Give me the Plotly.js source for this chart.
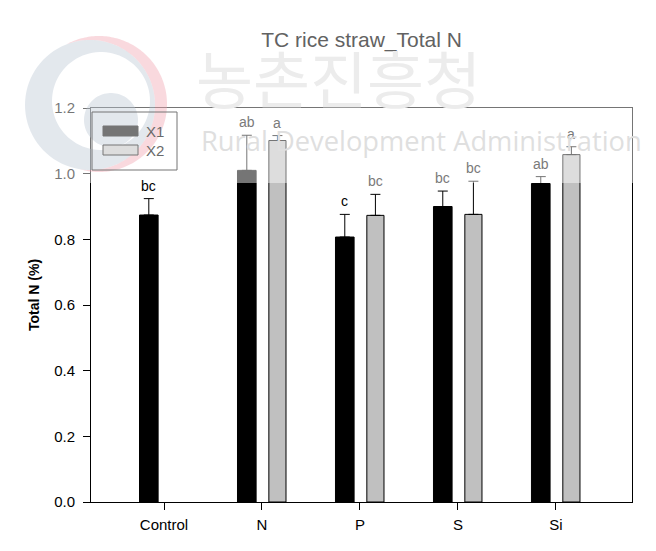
<!DOCTYPE html>
<html>
<head>
<meta charset="utf-8">
<script src="https://cdn.plot.ly/plotly-3.0.1.min.js"></script>
<style>html,body{margin:0;padding:0;background:#fff;}</style>
</head>
<body>
<div id="chart" style="width:656px;height:551px;"></div>
<script>
// ---- data ----
var categories = ['Control', 'N', 'P', 'S', 'Si'];
var seriesNames = ['X1', 'X2'];
var x1Mean = [0.874, 1.010, 0.807, 0.900, 0.970];
var x1Err  = [0.050, 0.107, 0.069, 0.047, 0.021];
var x2Mean = [null, 1.101, 0.873, 0.876, 1.058];
var x2Err  = [null, 0.015, 0.064, 0.101, 0.024];
var x1Letters = ['bc', 'ab', 'c', 'bc', 'ab'];
var x2Letters = ['', 'a', 'bc', 'bc', 'a'];
var yTickVals = [0, 0.2, 0.4, 0.6, 0.8, 1.0, 1.2];
var chartTitle = 'TC rice straw_Total N';
var yTitle = 'Total N (%)';

// ---- layout constants ----
var W = 656, H = 551;
var M = {l: 91, r: 24, t: 108, b: 49};
var plotW = W - M.l - M.r, plotH = H - M.t - M.b;
var YMAX = 1.2;
function px2x(px) { return (px - M.l) / plotW; }
function px2y(py) { return (H - M.b - py) / plotH; }
var overlayBottom = 183;
var FONT = 'Liberation Sans, Arial, sans-serif';

var w1 = 0.19, o1 = -0.25, w2 = 0.175, o2 = 0.07;
var xs = categories.map(function (c, i) { return i; });

var traces = [
  {
    type: 'bar', name: seriesNames[0], x: xs, y: x1Mean,
    width: w1, offset: o1,
    marker: {color: '#000000', line: {color: '#000000', width: 1}},
    error_y: {type: 'data', array: x1Err, arrayminus: x1Err.map(function () { return 0; }),
              symmetric: false, color: '#000000', thickness: 1, width: 5},
    showlegend: false, hoverinfo: 'skip'
  },
  {
    type: 'bar', name: seriesNames[1], x: xs, y: x2Mean,
    width: w2, offset: o2,
    marker: {color: '#c0c0c0', line: {color: '#000000', width: 1}},
    error_y: {type: 'data', array: x2Err, arrayminus: x2Err.map(function () { return 0; }),
              symmetric: false, color: '#000000', thickness: 1, width: 5},
    showlegend: false, hoverinfo: 'skip'
  }
];

function labelColor(v) {
  var py = H - M.b - v / YMAX * plotH - 13;
  return py < overlayBottom ? '#7a7a7a' : '#000000';
}

var annotations = [];
function addLetters(means, errs, letters, off, wd) {
  means.forEach(function (m, i) {
    if (m === null || !letters[i]) return;
    var top = m + (errs[i] || 0);
    annotations.push({
      xref: 'x', yref: 'y', x: i + off + wd / 2, y: top,
      text: letters[i], showarrow: false, yanchor: 'bottom', yshift: 3,
      font: {family: FONT, size: 14, color: labelColor(top)}
    });
  });
}
addLetters(x1Mean, x1Err, x1Letters, o1, w1);
addLetters(x2Mean, x2Err, x2Letters, o2, w2);

// y-axis title
annotations.push({
  xref: 'paper', yref: 'paper', x: px2x(34), y: px2y(295), text: '<b>' + yTitle + '</b>',
  textangle: -90, showarrow: false, xanchor: 'center', yanchor: 'middle',
  font: {family: FONT, size: 14, color: '#000000'}
});

// watermark texts
annotations.push({
  xref: 'paper', yref: 'paper', x: px2x(338), y: px2y(77), text: '농촌진흥청',
  showarrow: false, xanchor: 'center', yanchor: 'middle',
  font: {family: 'Noto Sans CJK KR', size: 62, color: '#ececec'}
});
annotations.push({
  xref: 'paper', yref: 'paper', x: px2x(199), y: px2y(140), text: 'Rural Development Administration',
  showarrow: false, xanchor: 'left', yanchor: 'middle',
  font: {family: 'Open Sans, Noto Sans, sans-serif', size: 27.3, color: '#dfdfdf'}
});

// legend labels
annotations.push({
  xref: 'paper', yref: 'paper', x: px2x(144), y: px2y(131), text: seriesNames[0],
  showarrow: false, xanchor: 'left', yanchor: 'middle',
  font: {family: FONT, size: 15, color: '#6a6a6a'}
});
annotations.push({
  xref: 'paper', yref: 'paper', x: px2x(144), y: px2y(150), text: seriesNames[1],
  showarrow: false, xanchor: 'left', yanchor: 'middle',
  font: {family: FONT, size: 15, color: '#6a6a6a'}
});

// circle sub-path in paper coordinates (pixel centre / radius)
function pt(px, py) { return px2x(px).toFixed(5) + ',' + px2y(py).toFixed(5); }
function circlePath(cx, cy, r) {
  var n = 90, s = '';
  for (var k = 0; k <= n; k++) {
    var a = 2 * Math.PI * k / n;
    s += (k === 0 ? 'M' : 'L') + pt(cx + r * Math.cos(a), cy + r * Math.sin(a));
  }
  return s + 'Z';
}
// crescent = outer disc minus inner disc (crescent lying around angle 0)
function crescentPath(o, i) {
  var n = 240, outer = [], inner = [];
  for (var k = 0; k < n; k++) {
    var a = -Math.PI + 2 * Math.PI * k / n;
    var ox = o.cx + o.r * Math.cos(a), oy = o.cy + o.r * Math.sin(a);
    if (Math.hypot(ox - i.cx, oy - i.cy) > i.r) outer.push([ox, oy]);
    var ix = i.cx + i.r * Math.cos(a), iy = i.cy + i.r * Math.sin(a);
    if (Math.hypot(ix - o.cx, iy - o.cy) < o.r) inner.push([ix, iy]);
  }
  var pts = outer.concat(inner.reverse());
  return pts.map(function (p, k) { return (k === 0 ? 'M' : 'L') + pt(p[0], p[1]); }).join('') + 'Z';
}
function rect(x0, y0, x1, y1, fill, lineColor) {
  return {type: 'rect', xref: 'paper', yref: 'paper', layer: 'above',
    x0: px2x(x0), x1: px2x(x1), y0: px2y(y1), y1: px2y(y0),
    fillcolor: fill, line: {color: lineColor || 'rgba(0,0,0,0)', width: lineColor ? 1 : 0}};
}

var pinkDisc = {cx: 99, cy: 104, r: 68};
var blueDisc = {cx: 90, cy: 105, r: 65};
var shapes = [
  // logo (watermark): pink crescent and blue ring with inner blob
  {type: 'path', xref: 'paper', yref: 'paper', layer: 'above',
   path: crescentPath(pinkDisc, blueDisc),
   fillcolor: 'rgba(228,83,105,0.4)', line: {width: 0}},
  {type: 'path', xref: 'paper', yref: 'paper', layer: 'above', fillrule: 'evenodd',
   path: circlePath(blueDisc.cx, blueDisc.cy, blueDisc.r) + circlePath(101, 101, 49) + circlePath(111, 120, 27),
   fillcolor: 'rgba(125,148,173,0.4)', line: {width: 0}},
  // legend
  rect(92, 112, 177, 170, 'rgba(0,0,0,0)', '#000000'),
  rect(103, 126, 138, 136, '#000000', '#000000'),
  rect(103, 145, 138, 155, '#c0c0c0', '#000000'),
  // watermark veil
  {type: 'rect', xref: 'paper', yref: 'paper', layer: 'above',
   x0: px2x(-5), x1: px2x(W + 5), y0: px2y(overlayBottom), y1: px2y(-5),
   fillcolor: '#ffffff', opacity: 0.46, line: {width: 0}}
];

var layout = {
  width: W, height: H,
  margin: M,
  paper_bgcolor: '#ffffff', plot_bgcolor: '#ffffff',
  font: {family: FONT, color: '#000000'},
  title: {text: chartTitle, x: 0.5, xref: 'paper', xanchor: 'center',
          y: 1 - 40 / H, yanchor: 'middle',
          font: {family: FONT, size: 21, color: '#626262'}},
  showlegend: false,
  xaxis: {
    range: [-0.745, 4.776], tickmode: 'array', tickvals: xs, ticktext: categories,
    ticks: 'outside', ticklen: 7, tickwidth: 1, tickcolor: '#000',
    ticklabelstandoff: 2,
    showline: true, linecolor: '#000', linewidth: 1, mirror: true,
    showgrid: false, zeroline: false,
    tickfont: {family: FONT, size: 15, color: '#000'}, fixedrange: true
  },
  yaxis: {
    range: [0, YMAX], tickmode: 'array', tickvals: yTickVals, tickformat: '.1f',
    ticks: 'outside', ticklen: 7, tickwidth: 1, tickcolor: '#000',
    ticklabelstandoff: 5,
    showline: true, linecolor: '#000', linewidth: 1, mirror: true,
    showgrid: false, zeroline: false,
    tickfont: {family: FONT, size: 15, color: '#000'},
    fixedrange: true
  },
  shapes: shapes,
  annotations: annotations
};

Plotly.newPlot('chart', traces, layout, {displayModeBar: false, staticPlot: true});
</script>
</body>
</html>
